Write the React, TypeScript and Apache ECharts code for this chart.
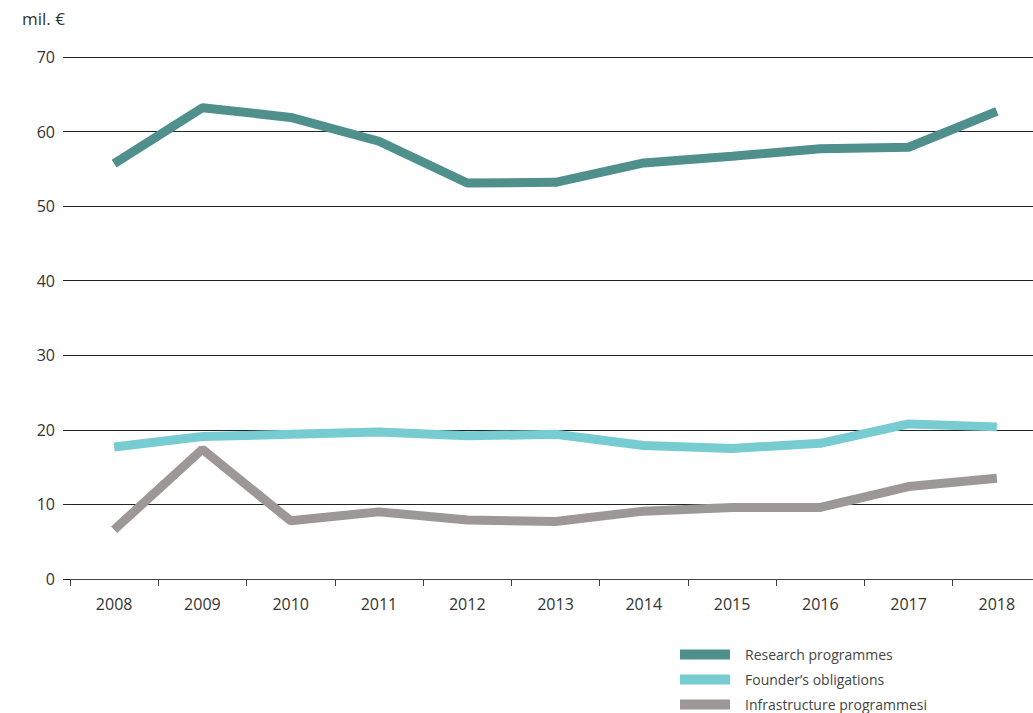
import React, { useEffect, useRef } from "react";
import * as echarts from "echarts";

const years = ["2008", "2009", "2010", "2011", "2012", "2013", "2014", "2015", "2016", "2017", "2018"];
const research = [55.7, 63.2, 61.9, 58.7, 53.1, 53.2, 55.8, 56.7, 57.7, 57.9, 62.7];
const founders = [17.7, 19.1, 19.4, 19.7, 19.2, 19.4, 17.9, 17.5, 18.2, 20.8, 20.4];
const infra = [6.6, 17.4, 7.8, 9.0, 7.9, 7.7, 9.1, 9.6, 9.6, 12.4, 13.5];
const seriesNames = ["Research programmes", "Founder’s obligations", "Infrastructure programmesi"];
const colors = ["#4f8f8c", "#77ccd2", "#9d9896"];

const FONT = "'Open Sans', sans-serif";

export default function App() {
  const ref = useRef<HTMLDivElement>(null);
  useEffect(() => {
    if (!ref.current) return;
    const chart = echarts.init(ref.current, undefined, { renderer: "svg" });
    const datasets = [research, founders, infra];
    chart.setOption({
      animation: false,
      title: {
        text: "mil. €",
        left: 22,
        top: 10,
        padding: 0,
        textStyle: { fontFamily: FONT, fontSize: 17, fontWeight: "normal", color: "#333" },
      },
      grid: { left: 70, right: 9, top: 57, bottom: 181 },
      legend: {
        orient: "vertical",
        left: 680,
        top: 647,
        padding: 0,
        itemWidth: 50,
        itemHeight: 10,
        itemGap: 10,
        icon: "rect",
        textStyle: { fontFamily: FONT, fontSize: 14, color: "#444", lineHeight: 15, padding: [0, 0, 0, 10] },
        data: seriesNames,
      },
      xAxis: {
        type: "category",
        data: years,
        boundaryGap: true,
        axisLine: { lineStyle: { color: "#444", width: 1 } },
        axisTick: { show: true, length: 7, lineStyle: { color: "#444" } },
        axisLabel: { fontFamily: FONT, fontSize: 16, color: "#333", margin: 17 },
      },
      yAxis: {
        type: "value",
        min: 0,
        max: 70,
        interval: 10,
        axisLine: { show: false },
        axisTick: { show: true, length: 7, lineStyle: { color: "#222" } },
        axisLabel: { fontFamily: FONT, fontSize: 16, color: "#333", margin: 15 },
        splitLine: { lineStyle: { color: "#222", width: 1 } },
      },
      series: datasets.map((d, i) => ({
        name: seriesNames[i],
        type: "line",
        data: d,
        symbol: "none",
        z: 3 - i,
        lineStyle: { color: colors[i], width: 9 },
        itemStyle: { color: colors[i] },
      })),
    });
    return () => chart.dispose();
  }, []);
  return (
    <div style={{ position: "absolute", left: 0, top: 0, width: 1033, height: 713, overflow: "hidden", background: "#fff" }}>
      <div ref={ref} style={{ width: 1050, height: 760 }} />
    </div>
  );
}
